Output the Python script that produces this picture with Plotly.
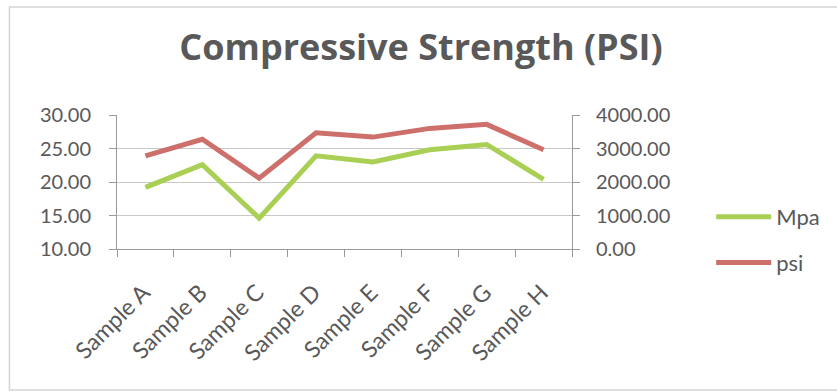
import plotly.graph_objects as go

# Category labels and measured strengths
samples = ["Sample A", "Sample B", "Sample C", "Sample D",
           "Sample E", "Sample F", "Sample G", "Sample H"]
mpa_values = [19.2, 22.6, 14.6, 23.9, 23.0, 24.8, 25.6, 20.4]
psi_values = [2780, 3275, 2115, 3470, 3340, 3600, 3720, 2960]

mpa_ticks = [10, 15, 20, 25, 30]
psi_ticks = [0, 1000, 2000, 3000, 4000]

FONT = "Lato"
TEXT = "#595959"
GRID = "#c8c8c8"
AXIS = "#9a9a9a"

# plot area in pixels: x 117..578, y 115..249
PX_L, PX_R, PX_T, PX_B = 117, 578, 115, 249
PW, PH = PX_R - PX_L, PX_B - PX_T


def px_x(v):
    return (v - PX_L) / PW


def px_y(v):
    return (PX_B - v) / PH


fig = go.Figure()
fig.add_trace(go.Scatter(
    x=samples, y=mpa_values, name="Mpa", mode="lines",
    line=dict(color="#a9cf54", width=5), legendgroup="a", yaxis="y",
))
fig.add_trace(go.Scatter(
    x=samples, y=psi_values, name="psi", mode="lines",
    line=dict(color="#cd6f6b", width=5), legendgroup="b", yaxis="y2",
))

fig.update_layout(
    width=837, height=392,
    margin=dict(l=PX_L, r=837 - PX_R, t=PX_T, b=392 - PX_B),
    paper_bgcolor="white", plot_bgcolor="white",
    font=dict(family=FONT, color=TEXT),
    title=dict(text="<b>Compressive Strength (PSI)</b>",
               x=0.503, xanchor="center", y=1 - 47 / 392, yanchor="middle",
               font=dict(size=36, family="Open Sans", color=TEXT)),
    xaxis=dict(
        type="category", range=[-0.5, 7.5], tickangle=-45,
        tickson="boundaries", ticks="outside", ticklen=7, tickcolor=AXIS,
        showline=True, linecolor=AXIS, linewidth=1, showgrid=False,
        ticklabelstandoff=20, ticklabelshift=-2,
        tickfont=dict(size=23, family=FONT, color=TEXT),
    ),
    yaxis=dict(
        range=[10, 30], tickvals=mpa_ticks, tickformat=".2f",
        ticks="outside", ticklen=7, tickcolor=AXIS, ticklabelstandoff=14,
        showline=True, linecolor=AXIS, gridcolor=GRID, zeroline=False,
        tickfont=dict(size=20, family=FONT, color=TEXT),
    ),
    yaxis2=dict(
        range=[0, 4000], tickvals=psi_ticks, tickformat=".2f",
        overlaying="y", side="right",
        ticks="outside", ticklen=7, tickcolor=AXIS, ticklabelstandoff=12,
        showline=True, linecolor=AXIS, showgrid=False, zeroline=False,
        tickfont=dict(size=20, family=FONT, color=TEXT),
    ),
    legend=dict(
        x=px_x(719), xanchor="left", y=px_y(196), yanchor="top",
        traceorder="grouped", tracegroupgap=14, itemwidth=55,
        font=dict(size=22, family=FONT, color=TEXT),
        bgcolor="rgba(0,0,0,0)",
    ),
    shapes=[dict(
        type="rect", xref="paper", yref="paper",
        x0=px_x(8), x1=px_x(850),
        y0=px_y(390), y1=px_y(7),
        line=dict(color="#d4d4d4", width=1.5), layer="below",
    )],
)

fig.write_html("out.html")
